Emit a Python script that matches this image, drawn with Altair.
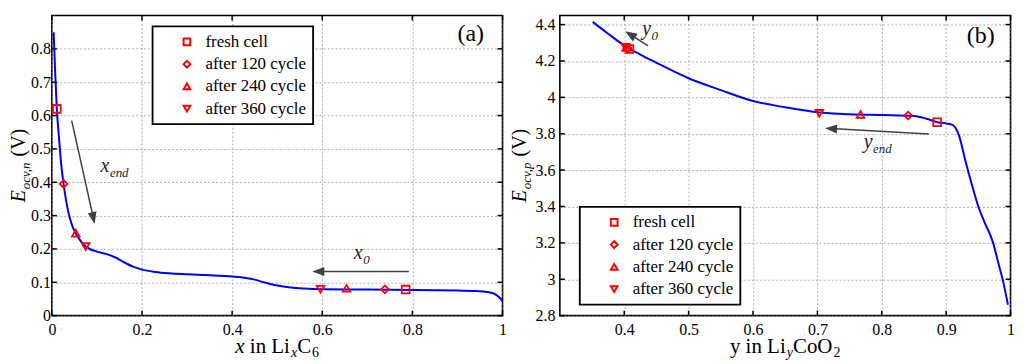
import math
import altair as alt
import pandas as pd

# ---------------- data ----------------
SERIES = ["fresh cell", "after 120 cycle", "after 240 cycle", "after 360 cycle"]
SHAPES = ["square", "diamond", "triangle-up", "triangle-down"]

# (a) negative electrode OCV vs x in LixC6
NEG_X = [0.004, 0.007, 0.011, 0.016, 0.021, 0.026, 0.035, 0.045, 0.053, 0.065,
         0.075, 0.085, 0.10, 0.12, 0.14, 0.16, 0.18, 0.20, 0.23, 0.26, 0.30,
         0.35, 0.40, 0.43, 0.45, 0.47, 0.50, 0.53, 0.56, 0.60, 0.70, 0.80,
         0.90, 0.94, 0.97, 0.985, 0.995, 1.0]
NEG_E = [0.85, 0.74, 0.62, 0.53, 0.45, 0.395, 0.32, 0.27, 0.247, 0.222,
         0.207, 0.199, 0.192, 0.185, 0.175, 0.160, 0.147, 0.138, 0.131, 0.127, 0.124,
         0.121, 0.117, 0.113, 0.108, 0.100, 0.090, 0.084, 0.081, 0.079, 0.078, 0.077,
         0.075, 0.074, 0.070, 0.063, 0.052, 0.043]
NEG_MK_X1 = [0.011, 0.026, 0.053, 0.075]
NEG_MK_E1 = [0.620, 0.395, 0.247, 0.207]
NEG_MK_X2 = [0.785, 0.739, 0.654, 0.596]
NEG_MK_E2 = [0.078, 0.079, 0.082, 0.079]

# (b) positive electrode OCV vs y in LiyCoO2
POS_Y = [0.351, 0.375, 0.40, 0.425, 0.45, 0.50, 0.55, 0.60, 0.65, 0.70, 0.75,
         0.80, 0.85, 0.87, 0.885, 0.90, 0.91, 0.915, 0.92, 0.93, 0.94, 0.95,
         0.96, 0.973, 0.981, 0.989, 0.996]
POS_E = [4.415, 4.35, 4.285, 4.235, 4.19, 4.105, 4.04, 3.98, 3.945, 3.918, 3.907,
         3.903, 3.898, 3.882, 3.865, 3.857, 3.849, 3.83, 3.79, 3.65, 3.52, 3.40,
         3.31, 3.20, 3.09, 2.98, 2.86]
POS_MK_Y1 = [0.886, 0.841, 0.767, 0.703]
POS_MK_E1 = [3.863, 3.900, 3.906, 3.912]
POS_MK_Y2 = [0.408, 0.405, 0.403, 0.402]
POS_MK_E2 = [4.266, 4.270, 4.274, 4.276]

NEG_XTICKS = [0, 0.2, 0.4, 0.6, 0.8, 1]
NEG_YTICKS = [0, 0.1, 0.2, 0.3, 0.4, 0.5, 0.6, 0.7, 0.8]
POS_XTICKS = [0.4, 0.5, 0.6, 0.7, 0.8, 0.9, 1]
POS_YTICKS = [2.8, 3, 3.2, 3.4, 3.6, 3.8, 4, 4.2, 4.4]

# arrows (start x, start y, tip x, tip y) in data units
NEG_ARROWS = [(0.044, 0.585, 0.095, 0.275), (0.792, 0.132, 0.578, 0.132)]
POS_ARROWS = [(0.437, 4.283, 0.4015, 4.364), (0.873, 3.799, 0.712, 3.830)]

# annotation labels: (x, y, main, subscript)
NEG_NOTES = [(0.108, 0.430, "x", "end"), (0.670, 0.170, "x", "0")]
POS_NOTES = [(0.428, 4.342, "y", "0"), (0.772, 3.720, "y", "end")]
NEG_TAG = (0.900, 0.825, "(a)")
POS_TAG = (0.932, 4.301, "(b)")

# ---------------- layout / style ----------------
W, H = 452, 301
FONT = "Liberation Serif, Times New Roman, Times, serif"
ARROW_C = "#404040"

REG = {' ': 250, '(': 333, ')': 333, ',': 250, '.': 250, 'C': 667, 'E': 611, 'L': 611,
       'O': 722, 'V': 722, 'a': 444, 'c': 444, 'e': 444, 'i': 278, 'l': 278, 'n': 500,
       'o': 500, 'y': 500, 'x': 500}
ITA = {' ': 250, 'x': 444, 'y': 444, 'E': 611, 'o': 500, 'c': 444, 'v': 444, ',': 250,
       'n': 500, 'p': 500, 'e': 444, 'd': 500}


def tw(s, size, italic):
    t = ITA if italic else REG
    return sum(t.get(ch, 500) for ch in s) * size / 1000.0


def one_text(text, size, italic, x, y, angle=0, color="black"):
    kw = dict(align="left", baseline="alphabetic", font=FONT, fontSize=size,
              fontStyle="italic" if italic else "normal", color=color)
    if angle:
        kw["angle"] = angle
    return alt.Chart(pd.DataFrame({"t": [text]})).mark_text(**kw).encode(
        text="t:N", x=alt.value(x), y=alt.value(y))


def split_lead(text, size):
    body = text.lstrip(" ")
    return body, (len(text) - len(body)) * 250 * size / 1000.0


def piece_w(p):
    text, size, it, shift = p
    return tw(text, size, it) + (1.0 if shift else 0.0)


def xtitle_layers(pieces, base_y):
    total = sum(piece_w(p) for p in pieces)
    cur = W / 2 - total / 2
    out = []
    for p in pieces:
        text, size, it, shift = p
        body, lead = split_lead(text, size)
        out.append(one_text(body, size, it, cur + lead + (1.0 if shift else 0.0),
                            base_y + shift))
        cur += piece_w(p)
    return out


def ytitle_layers(pieces, base_x):
    total = sum(piece_w(p) for p in pieces)
    cur = H / 2 + total / 2
    out = []
    for p in pieces:
        text, size, it, shift = p
        body, lead = split_lead(text, size)
        out.append(one_text(body, size, it, base_x + shift,
                            cur - lead - (1.0 if shift else 0.0), angle=270))
        cur -= piece_w(p)
    return out


def panel(cx, ce, mk1x, mk1e, mk2x, mk2e, xdom, ydom, xticks, yticks, arrows,
          notes, tag, xt, yt, ytitle_x, ylab_pad, legend_xy):
    xs = alt.Scale(domain=xdom, nice=False, zero=False)
    ys = alt.Scale(domain=ydom, nice=False, zero=False)
    ax_x = alt.Axis(values=xticks, format="~g", title=None, labelPadding=6)
    ax_y = alt.Axis(values=yticks, format="~g", title=None, labelPadding=ylab_pad)
    X = alt.X("x:Q", scale=xs, axis=ax_x)
    Y = alt.Y("y:Q", scale=ys, axis=ax_y)

    def px(x):
        return (x - xdom[0]) / (xdom[1] - xdom[0]) * W

    def py(y):
        return H - (y - ydom[0]) / (ydom[1] - ydom[0]) * H

    def ix(p):
        return xdom[0] + p / W * (xdom[1] - xdom[0])

    def iy(p):
        return ydom[0] + (H - p) / H * (ydom[1] - ydom[0])

    layers = []
    # inward ticks
    dfx = pd.DataFrame({"x": xticks})
    dfy = pd.DataFrame({"y": yticks})
    tick = dict(color="black", strokeWidth=1.5)
    layers.append(alt.Chart(dfx).mark_rule(**tick).encode(x=X, y=alt.value(H), y2=alt.value(H - 5)))
    layers.append(alt.Chart(dfx).mark_rule(**tick).encode(x=X, y=alt.value(0), y2=alt.value(5)))
    layers.append(alt.Chart(dfy).mark_rule(**tick).encode(y=Y, x=alt.value(0), x2=alt.value(5)))
    layers.append(alt.Chart(dfy).mark_rule(**tick).encode(y=Y, x=alt.value(W - 5), x2=alt.value(W)))

    # curve
    layers.append(alt.Chart(pd.DataFrame({"x": cx, "y": ce})).mark_line(
        color="#0000ff", strokeWidth=2, interpolate="monotone").encode(x=X, y=Y))

    # arrows
    rows = []
    for (x0, y0, x1, y1) in arrows:
        sx, sy, tx, ty = px(x0), py(y0), px(x1), py(y1)
        dx, dy = tx - sx, ty - sy
        L = math.hypot(dx, dy)
        ux, uy = dx / L, dy / L
        hx, hy = tx - 6 * ux, ty - 6 * uy
        ang = math.degrees(math.atan2(ux, -uy)) % 360
        rows.append({"x": x0, "y": y0, "x2": ix(hx), "y2": iy(hy), "a": ang})
    adf = pd.DataFrame(rows)
    layers.append(alt.Chart(adf).mark_rule(color=ARROW_C, strokeWidth=1.5).encode(
        x=X, y=Y, x2="x2:Q", y2="y2:Q"))
    layers.append(alt.Chart(adf).mark_point(
        shape="M0,-1L0.75,1L-0.75,1Z", filled=True, color=ARROW_C, opacity=1,
        size=144, strokeWidth=0).encode(
        x=alt.X("x2:Q", scale=xs, axis=ax_x), y=alt.Y("y2:Q", scale=ys, axis=ax_y),
        angle=alt.Angle("a:Q", scale=None)))

    # annotation labels
    for (x, y, main, sub) in notes:
        d = pd.DataFrame({"x": [x], "y": [y], "m": [main], "s": [sub]})
        layers.append(alt.Chart(d).mark_text(
            align="left", baseline="alphabetic", font=FONT, fontSize=20,
            fontStyle="italic", color="#222222").encode(x=X, y=Y, text="m:N"))
        layers.append(alt.Chart(d).mark_text(
            align="left", baseline="alphabetic", font=FONT, fontSize=13,
            fontStyle="italic", color="#222222", dx=tw(main, 20, True) + 0.5, dy=5).encode(
            x=X, y=Y, text="s:N"))
    d = pd.DataFrame({"x": [tag[0]], "y": [tag[1]], "t": [tag[2]]})
    layers.append(alt.Chart(d).mark_text(
        align="left", baseline="alphabetic", font=FONT, fontSize=24,
        color="black").encode(x=X, y=Y, text="t:N"))

    # markers
    mdf = pd.DataFrame({"x": mk1x + mk2x, "y": mk1e + mk2e, "s": SERIES + SERIES})
    layers.append(alt.Chart(mdf).mark_point(
        filled=False, color="red", strokeWidth=1.8, size=60, opacity=1).encode(
        x=X, y=Y,
        shape=alt.Shape("s:N", scale=alt.Scale(domain=SERIES, range=SHAPES),
                        legend=alt.Legend(
                            title=None, orient="none", legendX=legend_xy[0],
                            legendY=legend_xy[1], labelFont=FONT, labelFontSize=17,
                            labelColor="black", labelLimit=400,
                            padding=7, symbolOffset=19, labelOffset=10, rowPadding=4.3,
                            strokeColor="black", fillColor="white", cornerRadius=0,
                            symbolStrokeColor="red", symbolFillColor="transparent",
                            symbolStrokeWidth=2, symbolSize=45))))

    # axis titles
    layers += xtitle_layers(xt, H + 38)
    layers += ytitle_layers(yt, ytitle_x)

    return alt.layer(*layers).properties(width=W, height=H)


left = panel(NEG_X, NEG_E, NEG_MK_X1, NEG_MK_E1, NEG_MK_X2, NEG_MK_E2,
             [0, 1], [0, 0.9], NEG_XTICKS, NEG_YTICKS, NEG_ARROWS, NEG_NOTES, NEG_TAG,
             [("x", 21, True, 0), (" in Li", 21, False, 0), ("x", 14, True, 4),
              ("C", 21, False, 0), ("6", 14, False, 4)],
             [("E", 20, True, 0), ("ocv,n", 13, True, 4.5), (" (V)", 20, False, 0)],
             -26.5, 1.5, (101, 11))

right = panel(POS_Y, POS_E, POS_MK_Y1, POS_MK_E1, POS_MK_Y2, POS_MK_E2,
              [0.3, 1], [2.8, 4.45], POS_XTICKS, POS_YTICKS, POS_ARROWS, POS_NOTES, POS_TAG,
              [("y in Li", 21, False, 0), ("y", 14, True, 4),
               ("CoO", 21, False, 0), ("2", 14, False, 4)],
              [("E", 20, True, 0), ("ocv,p", 13, True, 4.5), (" (V)", 20, False, 0)],
              -33.5, 5, (20, 192))

chart = alt.hconcat(left, right, spacing=57.5, bounds="flush").resolve_scale(
    shape="independent").resolve_legend(shape="independent").properties(
    padding={"left": 0, "top": 5, "right": 0, "bottom": 0}
).configure_view(stroke="black", strokeWidth=1.6).configure_axis(
    domain=False, ticks=False, grid=True, gridColor="#9a9a9a", gridDash=[2, 2],
    gridWidth=0.8, labelFont=FONT, labelFontSize=16, labelColor="black",
    labelFlush=False, labelOverlap=False
).configure_legend(strokeWidth=1.8)

chart.save("out.html", embed_options={"renderer": "svg", "actions": False})
